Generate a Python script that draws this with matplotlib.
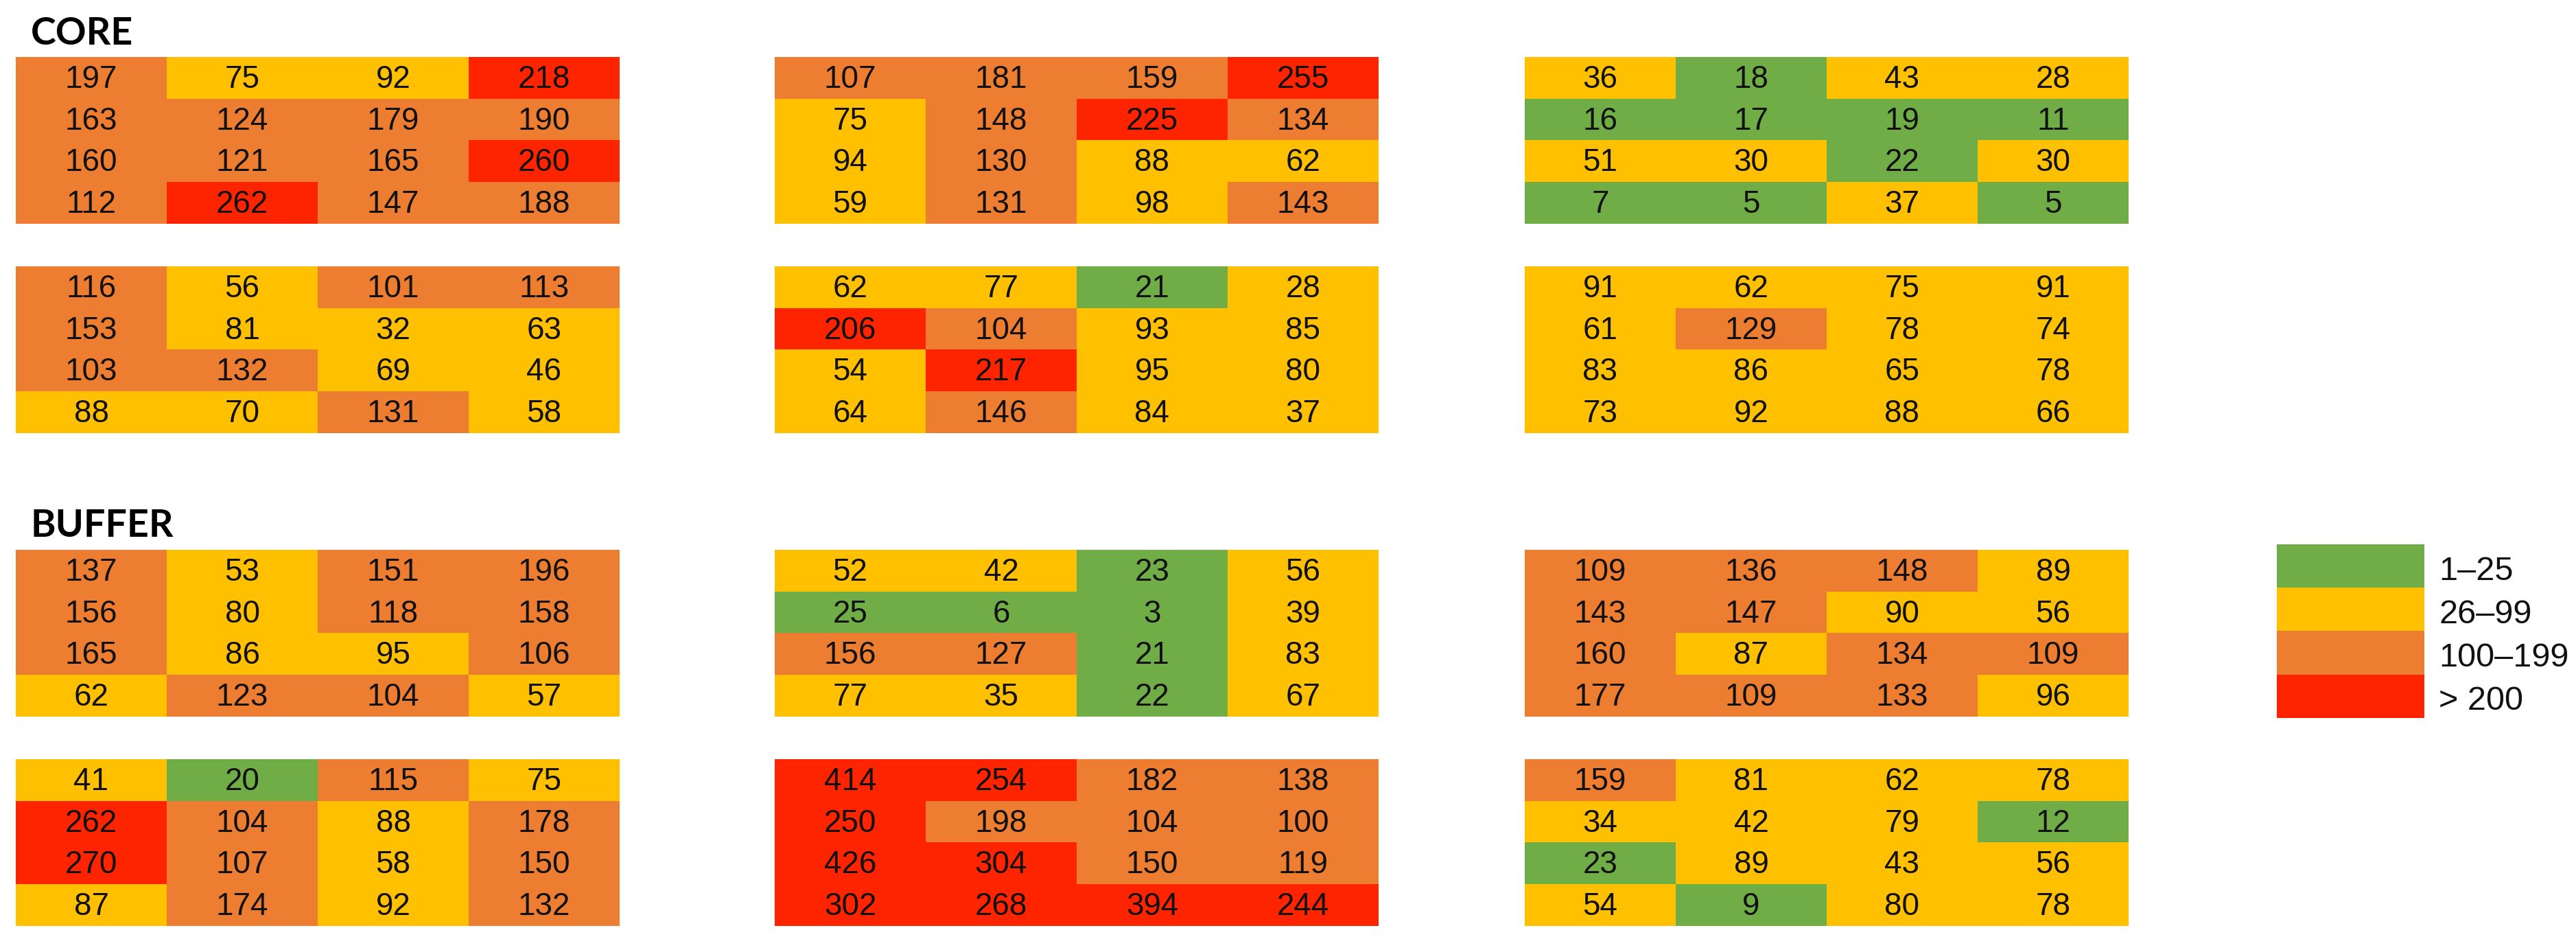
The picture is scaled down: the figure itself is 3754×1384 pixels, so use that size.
import matplotlib
matplotlib.use("Agg")
import matplotlib.pyplot as plt
from matplotlib import font_manager
from matplotlib.colors import ListedColormap, BoundaryNorm
import numpy as np

# counts per block, 4x4 each
core_blocks = [
    [[197, 75, 92, 218],
     [163, 124, 179, 190],
     [160, 121, 165, 260],
     [112, 262, 147, 188]],
    [[107, 181, 159, 255],
     [75, 148, 225, 134],
     [94, 130, 88, 62],
     [59, 131, 98, 143]],
    [[36, 18, 43, 28],
     [16, 17, 19, 11],
     [51, 30, 22, 30],
     [7, 5, 37, 5]],
    [[116, 56, 101, 113],
     [153, 81, 32, 63],
     [103, 132, 69, 46],
     [88, 70, 131, 58]],
    [[62, 77, 21, 28],
     [206, 104, 93, 85],
     [54, 217, 95, 80],
     [64, 146, 84, 37]],
    [[91, 62, 75, 91],
     [61, 129, 78, 74],
     [83, 86, 65, 78],
     [73, 92, 88, 66]],
]
buffer_blocks = [
    [[137, 53, 151, 196],
     [156, 80, 118, 158],
     [165, 86, 95, 106],
     [62, 123, 104, 57]],
    [[52, 42, 23, 56],
     [25, 6, 3, 39],
     [156, 127, 21, 83],
     [77, 35, 22, 67]],
    [[109, 136, 148, 89],
     [143, 147, 90, 56],
     [160, 87, 134, 109],
     [177, 109, 133, 96]],
    [[41, 20, 115, 75],
     [262, 104, 88, 178],
     [270, 107, 58, 150],
     [87, 174, 92, 132]],
    [[414, 254, 182, 138],
     [250, 198, 104, 100],
     [426, 304, 150, 119],
     [302, 268, 394, 244]],
    [[159, 81, 62, 78],
     [34, 42, 79, 12],
     [23, 89, 43, 56],
     [54, 9, 80, 78]],
]
class_labels = ["1\u201325", "26\u201399", "100\u2013199", "> 200"]
class_colors = ["#70AD47", "#FFC000", "#ED7D31", "#FF2400"]
class_bounds = [0.5, 25.5, 99.5, 199.5, 10000]

cmap = ListedColormap(class_colors)
norm = BoundaryNorm(class_bounds, cmap.N)

W, H = 3755, 1384
fig = plt.figure(figsize=(W / 100, H / 100), dpi=100)

names = [f.name for f in font_manager.fontManager.ttflist]
if "Liberation Sans Narrow" in names:
    num_font, num_size = "Liberation Sans Narrow", 37
else:
    num_font, num_size = "Liberation Sans", 33

def px_axes(x, y, w, h):
    # pixel box (top-left origin) -> figure axes
    return fig.add_axes([x / W, 1 - (y + h) / H, w / W, h / H])

block_x = [23, 1129, 2222]
block_w, block_h = 880, 243
core_y = [83, 388]
buffer_y = [801, 1106]

def draw_block(vals, x, y):
    ax = px_axes(x, y, block_w, block_h)
    arr = np.array(vals)
    ax.imshow(arr, cmap=cmap, norm=norm, aspect="auto", interpolation="nearest")
    for i in range(arr.shape[0]):
        for j in range(arr.shape[1]):
            ax.text(j, i + 0.04, str(arr[i, j]), ha="center", va="center",
                    fontsize=num_size, family=num_font, color="#111111")
    ax.set_axis_off()

for k, vals in enumerate(core_blocks):
    draw_block(vals, block_x[k % 3], core_y[k // 3])
for k, vals in enumerate(buffer_blocks):
    draw_block(vals, block_x[k % 3], buffer_y[k // 3])

fig.text(45 / W, 1 - 65 / H, "CORE", family="Lato", weight="bold",
         fontsize=40, ha="left", va="baseline")
fig.text(45 / W, 1 - 782 / H, "BUFFER", family="Lato", weight="bold",
         fontsize=40, ha="left", va="baseline")

# legend
lax = px_axes(3318, 793, 215, 253)
lax.imshow(np.array([[13], [60], [150], [300]]), cmap=cmap, norm=norm,
           aspect="auto", interpolation="nearest")
lax.set_axis_off()
for i, lab in enumerate(class_labels):
    lax.text(1.1, 1 - (i + 0.5) / 4 - 0.03, lab, transform=lax.transAxes,
             ha="left", va="center", fontsize=35, family="Liberation Sans",
             color="#111111")

fig.savefig("out.png", dpi=100)
